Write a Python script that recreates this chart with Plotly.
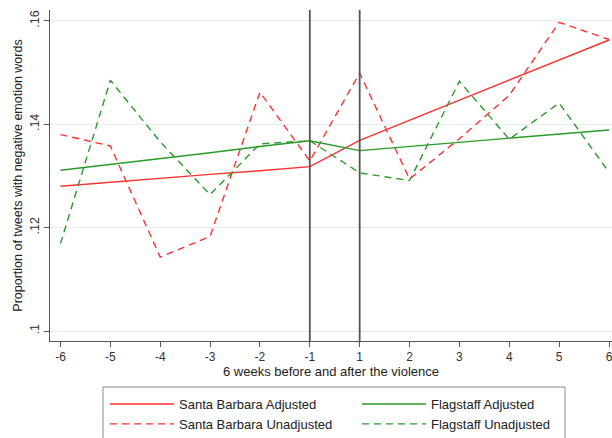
import plotly.graph_objects as go

weeks = ["-6", "-5", "-4", "-3", "-2", "-1", "1", "2", "3", "4", "5", "6"]
sb_adjusted = [0.1280, 0.1288, 0.1295, 0.1303, 0.1310, 0.1318, 0.1369, 0.1408, 0.1447, 0.1485, 0.1524, 0.1563]
fl_adjusted = [0.1311, 0.1322, 0.1334, 0.1345, 0.1357, 0.1368, 0.1349, 0.1357, 0.1365, 0.1373, 0.1381, 0.1389]
sb_unadjusted = [0.1380, 0.1358, 0.1143, 0.1183, 0.1462, 0.1329, 0.1499, 0.1294, 0.1372, 0.1456, 0.1597, 0.1564]
fl_unadjusted = [0.1169, 0.1485, 0.1366, 0.1264, 0.1362, 0.1368, 0.1306, 0.1291, 0.1483, 0.1371, 0.1441, 0.1307]
y_ticks = [0.10, 0.12, 0.14, 0.16]
y_tick_labels = [".1", ".12", ".14", ".16"]
event_weeks = ["-1", "1"]

RED = "#ff3030"
GREEN = "#2a9a2a"
FONT = "Liberation Sans, Arial, sans-serif"

fig = go.Figure()
fig.add_trace(go.Scatter(x=weeks, y=sb_adjusted, mode="lines", name="Santa Barbara Adjusted",
                         line=dict(color=RED, width=1.4), legend="legend"))
fig.add_trace(go.Scatter(x=weeks, y=sb_unadjusted, mode="lines", name="Santa Barbara Unadjusted",
                         line=dict(color=RED, width=1.4, dash="7px,5px"), legend="legend"))
fig.add_trace(go.Scatter(x=weeks, y=fl_adjusted, mode="lines", name="Flagstaff Adjusted",
                         line=dict(color=GREEN, width=1.4), legend="legend2"))
fig.add_trace(go.Scatter(x=weeks, y=fl_unadjusted, mode="lines", name="Flagstaff Unadjusted",
                         line=dict(color=GREEN, width=1.4, dash="7px,5px"), legend="legend2"))

for w in event_weeks:
    idx = weeks.index(w)
    fig.add_shape(type="line", xref="x", yref="paper", x0=idx, x1=idx, y0=0, y1=1,
                  line=dict(color="#555555", width=1.8))

W, H = 612, 438
ml, mr, mt, mb = 50, 0, 10, 97
pw, ph = W - ml - mr, H - mt - mb

def px_x(p):
    return (p - ml) / pw

def px_y(p):
    return (H - mb - p) / ph

# legend frame
fig.add_shape(type="rect", xref="paper", yref="paper",
              x0=px_x(103), x1=px_x(565), y0=px_y(445), y1=px_y(387),
              line=dict(color="#8a8a8a", width=1), fillcolor="rgba(0,0,0,0)")

fig.update_layout(
    width=W, height=H,
    margin=dict(l=ml, r=mr, t=mt, b=mb, autoexpand=False),
    plot_bgcolor="white", paper_bgcolor="white",
    font=dict(family=FONT, size=12, color="#222"),
    xaxis=dict(
        type="category", range=[-0.21, 11.06], automargin=False,
        showgrid=False, showline=True, linecolor="#555", linewidth=1,
        ticks="outside", ticklen=5, tickcolor="#555",
        tickfont=dict(size=12, color="#333"), ticklabeloverflow="allow",
        title=dict(text="6 weeks before and after the violence", font=dict(size=13), standoff=0),
    ),
    yaxis=dict(
        range=[0.09807, 0.1621], automargin=False,
        tickvals=y_ticks, ticktext=y_tick_labels, tickangle=-90,
        showgrid=True, gridcolor="#e6efef", gridwidth=1, zeroline=False,
        showline=True, linecolor="#555", linewidth=1,
        ticks="outside", ticklen=5, tickcolor="#555",
        tickfont=dict(size=12.5, color="#333"),
        title=dict(text="Proportion of tweets with negative emotion words", font=dict(size=12.5), standoff=2),
    ),
    legend=dict(x=px_x(105), y=px_y(389), xanchor="left", yanchor="top",
                bgcolor="rgba(0,0,0,0)", borderwidth=0, font=dict(size=13, color="#222"),
                tracegroupgap=0, itemwidth=64),
    legend2=dict(x=px_x(357), y=px_y(389), xanchor="left", yanchor="top",
                 bgcolor="rgba(0,0,0,0)", borderwidth=0, font=dict(size=13, color="#222"),
                 tracegroupgap=0, itemwidth=64),
    showlegend=True,
)

fig.write_html(
    "out.html",
    config={"displayModeBar": False},
    post_script=(
        "document.documentElement.style.margin='0';"
        "document.body.style.margin='0';"
        "document.documentElement.style.overflow='hidden';"
        "document.body.style.overflow='hidden';"
    ),
)
